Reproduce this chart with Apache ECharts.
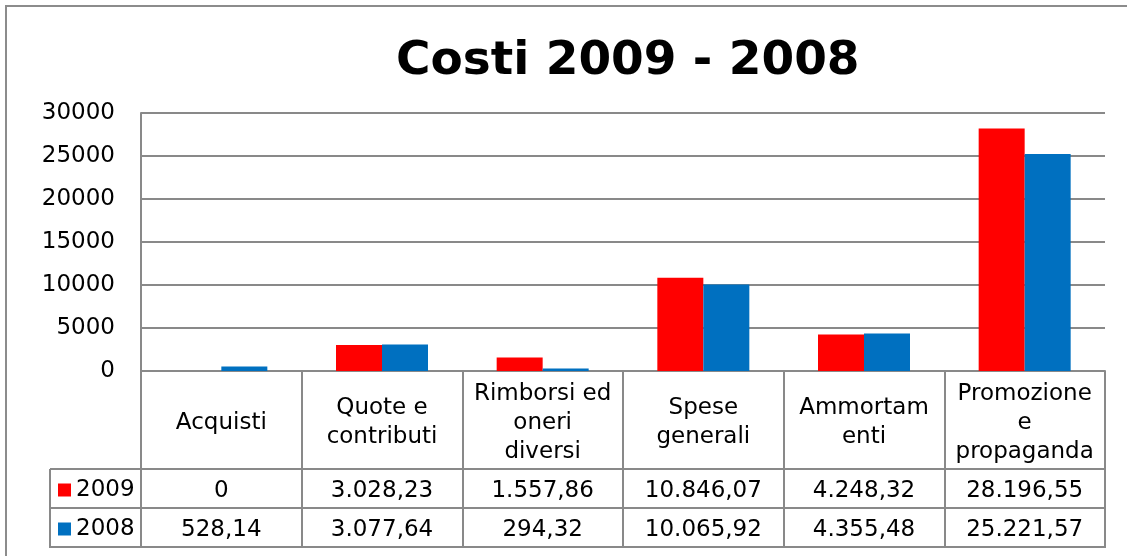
<!DOCTYPE html>
<html>
<head>
<meta charset="utf-8">
<script src="https://cdn.jsdelivr.net/npm/echarts@6/dist/echarts.min.js"></script>
<style>
html,body{margin:0;padding:0;background:#fff;}
#c{width:1127px;height:556px;}
</style>
</head>
<body>
<div id="c"></div>
<script>
// ---- data ----
const categories = ['Acquisti', 'Quote e\ncontributi', 'Rimborsi ed\noneri\ndiversi', 'Spese\ngenerali', 'Ammortam\nenti', 'Promozione\ne\npropaganda'];
const seriesNames = ['2009', '2008'];
const values2009 = [0, 3028.23, 1557.86, 10846.07, 4248.32, 28196.55];
const values2008 = [528.14, 3077.64, 294.32, 10065.92, 4355.48, 25221.57];
const yTicks = [0, 5000, 10000, 15000, 20000, 25000, 30000];

// ---- layout / style ----
const FONT = 'DejaVu Sans';
const GRAY = '#898989';
const GL = 141, GR = 1105, GT = 113, GB = 371;
const ROW1 = 469, ROW2 = 508, ROW3 = 547, TL = 50;

function fmtIt(v) {
  if (v === 0) return '0';
  const parts = v.toFixed(2).split('.');
  return parts[0].replace(/\B(?=(\d{3})+(?!\d))/g, '.') + ',' + parts[1];
}

const chart = echarts.init(document.getElementById('c'), null, {renderer: 'canvas'});

function valueAxis(data, margin) {
  return {
    type: 'category',
    position: 'bottom',
    data: data.map(String),
    axisLine: {show: false},
    axisTick: {show: false},
    splitLine: {show: false},
    axisLabel: {
      interval: 0, margin: margin, verticalAlign: 'middle',
      fontSize: 23, fontFamily: FONT, color: '#000',
      formatter: v => fmtIt(Number(v))
    }
  };
}

chart.setOption({
  animation: false,
  backgroundColor: '#fff',
  title: {
    text: 'Costi 2009 - 2008',
    left: 396, top: 38, padding: 0,
    textStyle: {fontFamily: FONT, fontWeight: 'bold', fontSize: 47, color: '#000'}
  },
  legend: {
    data: seriesNames,
    orient: 'vertical',
    left: 58, top: 476, padding: 0,
    itemWidth: 13, itemHeight: 13, itemGap: 11,
    icon: 'rect',
    selectedMode: false,
    textStyle: {fontFamily: FONT, fontSize: 23, lineHeight: 24, padding: [4, 0, 0, 0], color: '#000'}
  },
  grid: {left: GL, right: 1127 - GR, top: GT, bottom: 556 - GB, containLabel: false},
  xAxis: [
    {
      type: 'category',
      position: 'bottom',
      data: categories,
      axisLine: {lineStyle: {color: GRAY, width: 2}},
      axisTick: {show: true, length: ROW3 - GB, lineStyle: {color: GRAY, width: 2}},
      axisLabel: {
        interval: 0, margin: (GB + ROW1) / 2 - GB + 3, verticalAlign: 'middle',
        fontSize: 23, lineHeight: 29, fontFamily: FONT, color: '#000'
      }
    },
    valueAxis(values2009, (ROW1 + ROW2) / 2 - GB + 3),
    valueAxis(values2008, (ROW2 + ROW3) / 2 - GB + 3)
  ],
  yAxis: {
    type: 'value',
    min: yTicks[0], max: yTicks[yTicks.length - 1], interval: yTicks[1] - yTicks[0],
    axisLine: {show: true, lineStyle: {color: GRAY, width: 2}},
    axisTick: {show: false},
    splitLine: {lineStyle: {color: GRAY, width: 2}},
    axisLabel: {margin: 26, fontSize: 23, fontFamily: FONT, color: '#000', formatter: v => String(v)}
  },
  series: [
    {name: seriesNames[0], type: 'bar', data: values2009, barWidth: 46, barGap: '0%', itemStyle: {color: '#FF0000'}},
    {name: seriesNames[1], type: 'bar', data: values2008, barWidth: 46, barGap: '0%', itemStyle: {color: '#0070C0'}}
  ],
  graphic: [
    {type: 'rect', shape: {x: 6, y: 6, width: 1300, height: 800}, style: {fill: 'none', stroke: '#8c8c8c', lineWidth: 2}, silent: true},
    {type: 'line', shape: {x1: TL, y1: ROW1, x2: GR, y2: ROW1}, style: {stroke: GRAY, lineWidth: 2}},
    {type: 'line', shape: {x1: TL, y1: ROW2, x2: GR, y2: ROW2}, style: {stroke: GRAY, lineWidth: 2}},
    {type: 'line', shape: {x1: TL - 1, y1: ROW3, x2: GR + 1, y2: ROW3}, style: {stroke: GRAY, lineWidth: 2}},
    {type: 'line', shape: {x1: TL, y1: ROW1, x2: TL, y2: ROW3}, style: {stroke: GRAY, lineWidth: 2}}
  ]
});
</script>
</body>
</html>
